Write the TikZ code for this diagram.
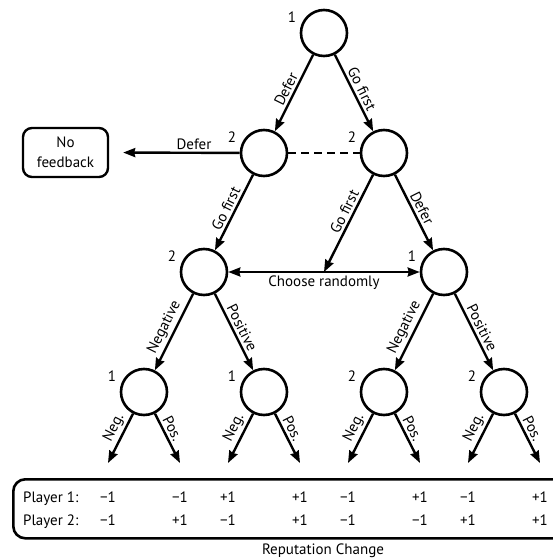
\documentclass[tikz,border=0pt]{standalone}
\usepackage{fontspec}
\setmainfont{PT Sans}
\usetikzlibrary{arrows.meta}
\begin{document}
\begin{tikzpicture}[x=1pt,y=-1pt,
  font=\fontsize{15}{18}\selectfont,
  state/.style={circle,draw,line width=2.6pt,minimum size=46pt,inner sep=0pt},
  num/.style={inner sep=0pt},
  tip/.tip={Stealth[length=12pt,width=9pt,inset=1pt]},
  arr/.style={line width=2.4pt,-tip},
  lab/.style={sloped,above,inner sep=2.5pt},
  cell/.style={inner sep=0pt,anchor=base}
]
\useasboundingbox (0,0) rectangle (553,560);

% states
\node[state] (r) at (324,33) {};
\node[state] (a) at (264,153) {};
\node[state] (b) at (384,153) {};
\node[state] (c) at (204,272) {};
\node[state] (d) at (444,272) {};
\node[state] (e) at (144,392) {};
\node[state] (f) at (264,392) {};
\node[state] (g) at (384,392) {};
\node[state] (h) at (504,392) {};

% player numbers
\node[num] (nr) at (292,17) {1};
\node[num] (na) at (232,137) {2};
\node[num] (nb) at (352,137) {2};
\node[num] (nc) at (172,256) {2};
\node[num] (nd) at (412,256) {1};
\node[num] (ne) at (112,376) {1};
\node[num] (nf1) at (232,376) {1};
\node[num] (ng) at (352,376) {2};
\node[num] (nh) at (472,376) {2};

% no feedback box
\node[draw,rounded corners=9pt,line width=2.4pt,minimum width=85pt,minimum height=49pt,
      align=center,inner sep=0pt,font=\fontsize{15}{20}\selectfont] (nf) at (65.5,152.5) {No\\feedback};

% edges
\draw[arr] (r) -- node[lab]{Defer} (a);
\draw[arr] (r) -- node[lab]{Go first} (b);
\draw[arr,shorten >=14pt] (a) -- node[above,pos=0.35,inner sep=2pt]{Defer} (nf.east);
\draw[line width=2.4pt,dash pattern=on 8pt off 5pt] (a) -- (b);
\draw[arr] (a) -- node[lab]{Go first} (c);
\coordinate (cr) at (324,272);
\draw[arr] (b) -- node[lab,pos=0.42]{Go first} (cr);
\draw[arr] (b) -- node[lab]{Defer} (d);
\draw[line width=2.4pt,tip-tip] (c) -- node[below,inner sep=3pt]{Choose randomly} (d);
\draw[arr] (c) -- node[lab]{Negative} (e);
\draw[arr] (c) -- node[lab]{Positive} (f);
\draw[arr] (d) -- node[lab]{Negative} (g);
\draw[arr] (d) -- node[lab]{Positive} (h);

% leaves
\coordinate (e1) at (108,463); \coordinate (e2) at (180,463);
\coordinate (f1) at (228,463); \coordinate (f2) at (300,463);
\coordinate (g1) at (348,463); \coordinate (g2) at (420,463);
\coordinate (h1) at (468,463); \coordinate (h2) at (540,463);
\foreach \n in {e,f,g,h}{
  \draw[arr] (\n) -- node[lab,pos=0.38]{Neg.} (\n1);
  \draw[arr] (\n) -- node[lab,pos=0.38]{Pos.} (\n2);
}

% table
\node[draw,rounded corners=12pt,line width=2.6pt,minimum width=554pt,minimum height=59pt,
      anchor=north west,inner sep=0pt] (tab) at (12,478) {};
\node[cell,anchor=base west] (p1) at (23,502) {Player 1:};
\node[cell,anchor=base west] (p2) at (23,525) {Player 2:};
\foreach \x/\u/\v [count=\i] in {108/−1/−1,180/−1/+1,228/+1/−1,300/+1/+1,348/−1/−1,420/+1/−1,468/−1/+1,540/+1/+1}{
  \node[cell] (ua\i) at (\x,502) {\u};
  \node[cell] (va\i) at (\x,525) {\v};
}
\node[cell] (rc) at (323,554) {Reputation Change};
\end{tikzpicture}
\end{document}
